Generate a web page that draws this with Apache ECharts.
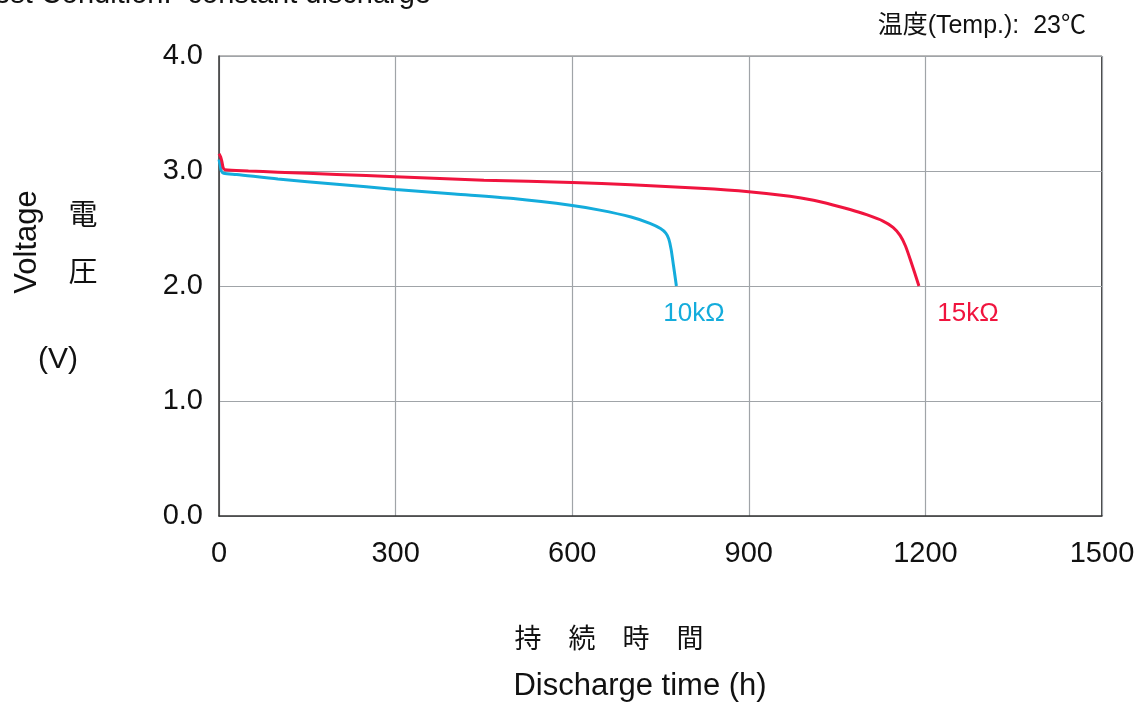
<!DOCTYPE html>
<html><head><meta charset="utf-8">
<script src="https://cdn.jsdelivr.net/npm/echarts@6/dist/echarts.min.js"></script>
<style>html,body{margin:0;padding:0;background:#fff}#c{width:1144px;height:702px}</style>
</head><body><div id="c"></div>
<script>
// Discharge curves: [hours, volts]
const series10k = [[0,3.10],[2,3.05],[4,3.00],[8,2.98],[30,2.97],[100,2.93],[200,2.885],[300,2.84],[400,2.80],[500,2.76],[600,2.70],[647,2.66],[700,2.60],[732,2.545],[750,2.50],[759,2.46],[764,2.41],[768,2.32],[772,2.18],[777,2.00]];
const series15k = [[0,3.15],[3,3.12],[5,3.08],[7,3.03],[10,3.01],[50,3.00],[100,2.99],[200,2.97],[300,2.95],[450,2.92],[600,2.90],[700,2.88],[817,2.85],[900,2.82],[970,2.78],[1010,2.745],[1043,2.705],[1072,2.665],[1100,2.62],[1128,2.565],[1145,2.51],[1157,2.44],[1166,2.35],[1175,2.22],[1189,2.00]];
const xTicks = [0,300,600,900,1200,1500];
const yTicks = [0.0,1.0,2.0,3.0,4.0];
const seriesNames = ['10kΩ','15kΩ'];
const colors = ['#14acdc','#f0143e'];

const chart = echarts.init(document.getElementById('c'));
const font = 'Liberation Sans';
const cjk = 'Noto Sans CJK JP';
const T = (x,y,text,size,fam,extra) => Object.assign({type:'text',x:x,y:y,style:Object.assign({text:text,fontSize:size,fontFamily:fam,fill:'#111',align:'center',verticalAlign:'middle'},extra||{})});
chart.setOption({
  animation:false,
  grid:{left:219,right:42,top:56,bottom:186},
  xAxis:{type:'value',min:xTicks[0],max:xTicks[xTicks.length-1],interval:300,
    axisLine:{lineStyle:{color:'#333',width:1.5}},axisTick:{show:false},
    axisLabel:{color:'#111',fontSize:29,fontFamily:font,margin:23,formatter:v=>String(v)},
    splitLine:{lineStyle:{color:'#a0a4a8',width:1.2}}},
  yAxis:{type:'value',min:yTicks[0],max:yTicks[yTicks.length-1],interval:1,
    axisLine:{show:true,lineStyle:{color:'#333',width:1.5}},axisTick:{show:false},
    axisLabel:{color:'#111',fontSize:29,fontFamily:font,margin:16,formatter:v=>v.toFixed(1)},
    splitLine:{lineStyle:{color:'#a0a4a8',width:1.2}}},
  series:[
    {name:seriesNames[0],type:'line',data:series10k,showSymbol:false,smooth:0.25,lineStyle:{color:colors[0],width:3},z:3},
    {name:seriesNames[1],type:'line',data:series15k,showSymbol:false,smooth:0.25,lineStyle:{color:colors[1],width:3},z:4}
  ],
  graphic:[
    {type:'line',shape:{x1:1102,y1:56,x2:1102,y2:516},style:{stroke:'#444',lineWidth:2}},
    {type:'line',shape:{x1:219,y1:56,x2:1102,y2:56},style:{stroke:'#777',lineWidth:1.2}},
    T(431,9,'Test Condition:  constant discharge',29,font,{align:'right',verticalAlign:'bottom'}),
    T(1086,26,'温度(Temp.):  23℃',25,font+', '+cjk,{align:'right'}),
    {type:'text',x:27,y:242,rotation:Math.PI/2,style:{text:'Voltage',fontSize:31,fontFamily:font,fill:'#111',align:'center',verticalAlign:'middle'}},
    T(83,214,'電',29,cjk),
    T(83,271,'圧',29,cjk),
    T(58,360,'(V)',30,font),
    T(609,638,'持　続　時　間',27,cjk),
    T(640,686,'Discharge time (h)',31,font),
    T(694,314,seriesNames[0],26,font,{fill:colors[0]}),
    T(968,314,seriesNames[1],26,font,{fill:colors[1]})
  ]
});
</script></body></html>
